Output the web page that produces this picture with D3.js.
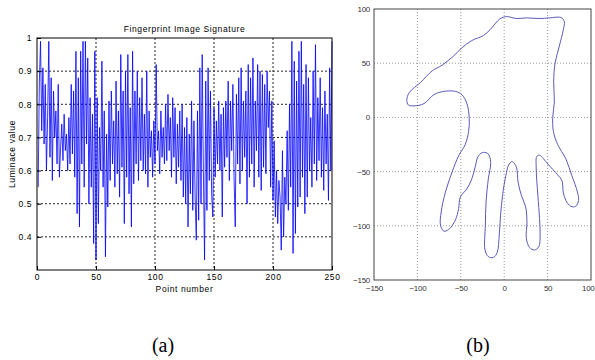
<!DOCTYPE html>
<html>
<head>
<meta charset="utf-8">
<script src="https://cdn.jsdelivr.net/npm/d3@7"></script>
<style>
  html, body { margin: 0; padding: 0; background: #fff; }
  svg { display: block; }
</style>
</head>
<body>
<svg id="chart" width="595" height="360"></svg>
<script>
// ---------- Panel (a) data ----------
const signatureTitle = "Fingerprint Image Signature";
const signatureXLabel = "Point number";
const signatureYLabel = "Luminace value";
const signatureXTicks = [0, 50, 100, 150, 200, 250];
const signatureYTicks = [0.4, 0.5, 0.6, 0.7, 0.8, 0.9, 1];
const luminance = [
  0.55, 0.87, 0.99, 0.72, 0.91, 0.68, 0.86, 0.60, 0.76, 0.99,
  0.64, 0.88, 0.57, 0.84, 0.70, 0.78, 0.62, 0.86, 0.58, 0.67,
  0.74, 0.63, 0.77, 0.66, 0.71, 0.60, 0.76, 0.62, 0.86, 0.65,
  0.84, 0.58, 0.96, 0.47, 0.88, 0.43, 0.96, 0.62, 0.99, 0.55,
  0.99, 0.68, 0.94, 0.50, 0.82, 0.55, 0.77, 0.38, 0.96, 0.33,
  0.82, 0.44, 0.73, 0.60, 0.93, 0.55, 0.78, 0.34, 0.71, 0.49,
  0.81, 0.57, 0.84, 0.62, 0.75, 0.55, 0.87, 0.59, 0.78, 0.52,
  0.95, 0.61, 0.84, 0.44, 0.90, 0.58, 0.95, 0.53, 0.79, 0.43,
  0.96, 0.56, 0.84, 0.62, 0.90, 0.57, 0.82, 0.63, 0.88, 0.60,
  0.77, 0.59, 0.90, 0.55, 0.78, 0.64, 0.72, 0.58, 0.75, 0.62,
  0.92, 0.66, 0.72, 0.59, 0.78, 0.64, 0.73, 0.62, 0.80, 0.63,
  0.83, 0.66, 0.76, 0.58, 0.82, 0.64, 0.79, 0.56, 0.74, 0.61,
  0.78, 0.57, 0.80, 0.52, 0.73, 0.50, 0.76, 0.43, 0.71, 0.53,
  0.81, 0.48, 0.75, 0.52, 0.39, 0.78, 0.45, 0.91, 0.50, 0.95,
  0.60, 0.33, 0.87, 0.48, 0.91, 0.57, 0.84, 0.53, 0.46, 0.79,
  0.58, 0.75, 0.62, 0.81, 0.60, 0.77, 0.46, 0.79, 0.61, 0.81,
  0.64, 0.87, 0.57, 0.81, 0.66, 0.86, 0.58, 0.43, 0.83, 0.62,
  0.88, 0.56, 0.91, 0.60, 0.81, 0.64, 0.84, 0.50, 0.92, 0.58,
  0.88, 0.62, 0.94, 0.55, 0.81, 0.66, 0.92, 0.58, 0.90, 0.54,
  0.89, 0.61, 0.86, 0.59, 0.90, 0.73, 0.84, 0.55, 0.81, 0.51,
  0.69, 0.46, 0.60, 0.44, 0.57, 0.52, 0.36, 0.66, 0.40, 0.58,
  0.50, 0.72, 0.48, 0.80, 0.55, 0.99, 0.35, 0.93, 0.41, 0.87,
  0.49, 0.96, 0.52, 0.99, 0.58, 0.86, 0.47, 0.92, 0.52, 0.88,
  0.60, 0.76, 0.55, 0.90, 0.62, 0.98, 0.57, 0.82, 0.63, 0.88,
  0.58, 0.79, 0.54, 0.84, 0.62, 0.77, 0.51, 0.91, 0.60, 0.99
];

// ---------- Panel (b) data ----------
const contourTicks = [-150, -100, -50, 0, 50, 100];
const contourX = [
  -112.2, -109.5, -96.2, -82.9, -71.5, -58.2, -48.7, -37.3, -24, -16.3,
  -4.9, 2.7, 14.1, 25.5, 40.7, 52.1, 65.4, 69.2, 68.1, 63.5,
  58.6, 57, 57.8, 55.9, 56.7, 61.6, 71.1, 77.9, 84.4, 85.6,
  82.5, 76.8, 71, 68, 66.5, 61.6, 50.2, 40.7, 37.6, 36.9,
  38.8, 40.7, 41.4, 39.9, 35, 29.3, 25.5, 26.2, 24.7, 19.8,
  16, 14.1, 9.5, 5.7, 1.9, -1.9, -4.2, -5.7, -8, -12.5,
  -18.3, -22.1, -21.7, -20.9, -18.3, -15.6, -18.3, -24, -29.7, -33.5,
  -37.3, -43, -50.6, -52.5, -56.3, -63.9, -69.6, -73.4, -72.6, -67.7,
  -60.1, -52.5, -44.9, -41, -40.3, -43, -48.7, -56.3, -69.6, -81,
  -92.4, -103.8, -110.5
];
const contourY = [
  15.8, 22.7, 32.4, 43, 48.2, 56.7, 64.2, 70.9, 75.5, 80.9,
  90.9, 93, 91.2, 91.8, 91.2, 91.8, 92.1, 88.5, 80.9, 65.8,
  50, 32.4, 14.2, 0, -13, -25, -38.4, -53.7, -68.9, -76.5,
  -82, -82, -76.5, -68.9, -58.2, -53, -43, -34.8, -36, -47.6,
  -72, -93.3, -108.5, -119.2, -122.3, -120.1, -111.6, -96.3, -82.6, -72,
  -59.8, -46, -40.9, -43, -53.7, -72, -90.2, -108.5, -124.4, -129.3,
  -128.4, -122.3, -99.4, -78, -56.7, -41.5, -33.8, -32.3, -35.4, -46,
  -56.7, -65.9, -73.5, -84.1, -94.8, -103.4, -104.9, -99.4, -87.2, -68.9,
  -50.6, -35.4, -25, -13, 0, 12.7, 21, 24, 24, 21,
  12.7, 10.6, 11.5
];
const panelLabels = ["(a)", "(b)"];

const SANS = "Liberation Sans, Arial, sans-serif";
const SERIF = "Liberation Serif, DejaVu Serif, serif";
const svg = d3.select("#chart");

// ================= Panel (a) =================
const A = { left: 37, top: 38, right: 332, bottom: 270 };
const xA = d3.scaleLinear().domain([0, 250]).range([A.left, A.right]);
const yA = d3.scaleLinear().domain([0.3, 1]).range([A.bottom, A.top]);
const gA = svg.append("g");

gA.append("g").selectAll("line")
  .data(signatureXTicks.filter(d => d > 0 && d < 250))
  .join("line")
  .attr("x1", d => xA(d)).attr("x2", d => xA(d))
  .attr("y1", A.top).attr("y2", A.bottom)
  .attr("stroke", "#222").attr("stroke-width", 1).attr("stroke-dasharray", "2,2");
gA.append("g").selectAll("line")
  .data(signatureYTicks.filter(d => d < 1))
  .join("line")
  .attr("x1", A.left).attr("x2", A.right)
  .attr("y1", d => yA(d)).attr("y2", d => yA(d))
  .attr("stroke", "#222").attr("stroke-width", 1).attr("stroke-dasharray", "2,2");

gA.append("path")
  .datum(luminance)
  .attr("fill", "none")
  .attr("stroke", "#0000ff")
  .attr("stroke-width", 0.8)
  .attr("d", d3.line().x((d, i) => xA(i + 1)).y(d => yA(d)));

gA.append("rect")
  .attr("x", A.left).attr("y", A.top)
  .attr("width", A.right - A.left).attr("height", A.bottom - A.top)
  .attr("fill", "none").attr("stroke", "#000").attr("stroke-width", 1);

const axXA = d3.axisBottom(xA).tickValues(signatureXTicks).tickSize(-4).tickPadding(4).tickFormat(d3.format("d"));
const axYA = d3.axisLeft(yA).tickValues(signatureYTicks).tickSize(-4).tickPadding(5).tickFormat(d => d === 1 ? "1" : d3.format(".1f")(d));
const gxa = gA.append("g").attr("transform", `translate(0,${A.bottom})`).call(axXA);
const gya = gA.append("g").attr("transform", `translate(${A.left},0)`).call(axYA);
[gxa, gya].forEach(g => {
  g.select(".domain").remove();
  g.selectAll("line").attr("stroke", "#000");
  g.selectAll("text").attr("font-size", 8.5).attr("fill", "#000").attr("font-family", SANS).style("letter-spacing", "0.6px");
});

gA.append("text")
  .attr("x", (A.left + A.right) / 2).attr("y", 32)
  .attr("text-anchor", "middle").attr("font-size", 8.5).attr("font-family", SANS).style("letter-spacing", "0.6px")
  .text(signatureTitle);
gA.append("text")
  .attr("x", (A.left + A.right) / 2).attr("y", 292)
  .attr("text-anchor", "middle").attr("font-size", 8.5).attr("font-family", SANS).style("letter-spacing", "0.6px")
  .text(signatureXLabel);
gA.append("text")
  .attr("transform", `translate(15,${(A.top + A.bottom) / 2}) rotate(-90)`)
  .attr("text-anchor", "middle").attr("font-size", 8.5).attr("font-family", SANS).style("letter-spacing", "0.6px")
  .text(signatureYLabel);

// ================= Panel (b) =================
const B = { left: 374, top: 9, right: 591, bottom: 280 };
const xB = d3.scaleLinear().domain([-150, 100]).range([B.left, B.right]);
const yB = d3.scaleLinear().domain([-150, 100]).range([B.bottom, B.top]);
const gB = svg.append("g");

gB.append("g").selectAll("line")
  .data(contourTicks.filter(d => d > -150 && d < 100))
  .join("line")
  .attr("x1", d => xB(d)).attr("x2", d => xB(d))
  .attr("y1", B.top).attr("y2", B.bottom)
  .attr("stroke", "#999").attr("stroke-width", 1).attr("stroke-dasharray", "1,2");
gB.append("g").selectAll("line")
  .data(contourTicks.filter(d => d > -150 && d < 100))
  .join("line")
  .attr("x1", B.left).attr("x2", B.right)
  .attr("y1", d => yB(d)).attr("y2", d => yB(d))
  .attr("stroke", "#999").attr("stroke-width", 1).attr("stroke-dasharray", "1,2");

const contour = contourX.map((x, i) => [x, contourY[i]]);
gB.append("path")
  .datum(contour)
  .attr("fill", "none")
  .attr("stroke", "#5a5ab8")
  .attr("stroke-width", 1)
  .attr("d", d3.line().x(d => xB(d[0])).y(d => yB(d[1])).curve(d3.curveCatmullRomClosed.alpha(0.5)));

gB.append("rect")
  .attr("x", B.left).attr("y", B.top)
  .attr("width", B.right - B.left).attr("height", B.bottom - B.top)
  .attr("fill", "none").attr("stroke", "#444").attr("stroke-width", 1);

const axXB = d3.axisBottom(xB).tickValues(contourTicks).tickSize(0).tickPadding(5);
const axYB = d3.axisLeft(yB).tickValues(contourTicks).tickSize(0).tickPadding(4);
const gxb = gB.append("g").attr("transform", `translate(0,${B.bottom})`).call(axXB);
const gyb = gB.append("g").attr("transform", `translate(${B.left},0)`).call(axYB);
[gxb, gyb].forEach(g => {
  g.select(".domain").remove();
  g.selectAll("text").attr("font-size", 8).attr("fill", "#333").attr("font-family", SANS).style("letter-spacing", "-0.3px");
});
// keep the last x label inside the picture
gxb.selectAll("text").filter(d => d === 100).attr("text-anchor", "end").attr("x", 594 - xB(100));

// ================= Captions =================
svg.selectAll("text.cap")
  .data(panelLabels)
  .join("text")
  .attr("class", "cap")
  .attr("x", (d, i) => i === 0 ? 163 : 478)
  .attr("y", 352)
  .attr("text-anchor", "middle")
  .attr("font-family", SERIF)
  .attr("font-size", 20)
  .attr("fill", "#000")
  .text(d => d);
</script>
</body>
</html>
